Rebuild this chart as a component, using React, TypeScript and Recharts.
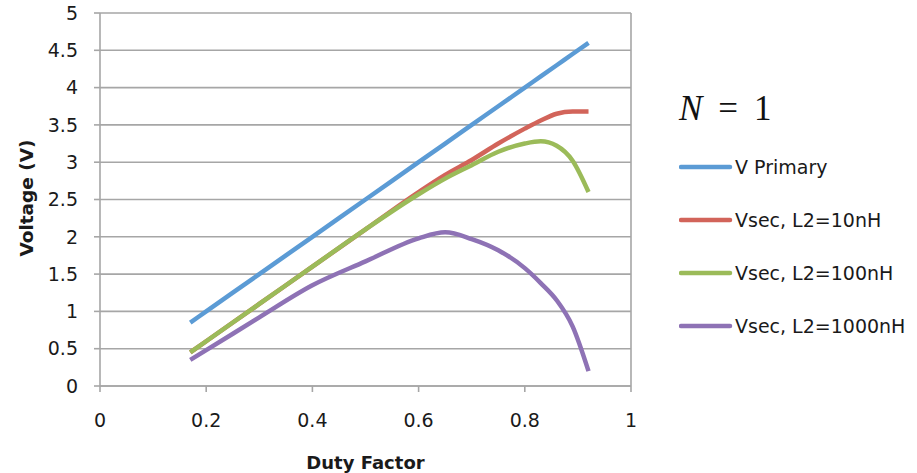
import React from 'react';
import { LineChart, Line, XAxis, YAxis, CartesianGrid, ReferenceLine } from 'recharts';

// duty factor samples (x) and voltages
const dutyFactor = [0.17, 0.2, 0.3, 0.4, 0.5, 0.6, 0.65, 0.7, 0.75, 0.8, 0.83, 0.86, 0.89, 0.92];
const vPrimary = [0.85, 1.0, 1.5, 2.0, 2.5, 3.0, 3.25, 3.5, 3.75, 4.0, 4.15, 4.3, 4.45, 4.6];
const vSec10 = [0.45, 0.6, 1.1, 1.6, 2.1, 2.6, 2.83, 3.03, 3.25, 3.45, 3.56, 3.65, 3.68, 3.68];
const vSec100 = [0.45, 0.6, 1.1, 1.6, 2.1, 2.57, 2.78, 2.96, 3.14, 3.25, 3.28, 3.22, 3.02, 2.6];
const vSec1000 = [0.35, 0.48, 0.92, 1.35, 1.67, 1.98, 2.06, 1.97, 1.82, 1.58, 1.38, 1.15, 0.8, 0.2];

const xTicks = [0, 0.2, 0.4, 0.6, 0.8, 1];
const yTicks = [0, 0.5, 1, 1.5, 2, 2.5, 3, 3.5, 4, 4.5, 5];

const series = [
  { key: 'vp', name: 'V Primary', color: '#5B9BD5' },
  { key: 's10', name: 'Vsec, L2=10nH', color: '#D2645A' },
  { key: 's100', name: 'Vsec, L2=100nH', color: '#9BBB59' },
  { key: 's1000', name: 'Vsec, L2=1000nH', color: '#8E72B5' },
];

const data = dutyFactor.map((d, i) => ({
  d,
  vp: vPrimary[i],
  s10: vSec10[i],
  s100: vSec100[i],
  s1000: vSec1000[i],
}));

const FONT = '"DejaVu Sans", sans-serif';
const GRID = '#A6A6A6';
const tickStyle = { fontFamily: FONT, fontSize: 19, fill: '#1a1a1a' };

const YLabel = () => (
  <text
    x={26}
    y={198}
    transform="rotate(-90 26 198)"
    textAnchor="middle"
    dominantBaseline="central"
    style={{ fontFamily: FONT, fontSize: 18.5, fontWeight: 'bold', fill: '#1a1a1a' }}
  >
    Voltage (V)
  </text>
);

export default function App() {
  return (
    <div style={{ position: 'absolute', left: 0, top: 0, width: 917, height: 473, background: '#fff' }}>
      <LineChart width={917} height={473} data={data} margin={{ top: 13, right: 286, bottom: 0, left: 0 }}>
        <CartesianGrid vertical={false} stroke={GRID} strokeWidth={1.6} />
        <ReferenceLine x={1} stroke={GRID} strokeWidth={1.6} />
        <XAxis
          dataKey="d"
          type="number"
          domain={[0, 1]}
          ticks={xTicks}
          height={87}
          tickSize={6}
          tickMargin={22}
          stroke={GRID}
          strokeWidth={1.6}
          tick={tickStyle}
          label={{
            value: 'Duty Factor',
            position: 'insideBottom',
            offset: 4,
            style: { fontFamily: FONT, fontSize: 18, fontWeight: 'bold', fill: '#1a1a1a' },
          }}
        />
        <YAxis
          type="number"
          domain={[0, 5]}
          ticks={yTicks}
          width={100}
          tickSize={6}
          tickMargin={16}
          stroke={GRID}
          strokeWidth={1.6}
          tick={tickStyle}
          label={{ content: () => <YLabel /> }}
        />
        {series.map(s => (
          <Line
            key={s.key}
            dataKey={s.key}
            name={s.name}
            type="monotone"
            stroke={s.color}
            strokeWidth={4.5}
            dot={false}
            activeDot={false}
            isAnimationActive={false}
          />
        ))}
      </LineChart>

      <div style={{ position: 'absolute', left: 679, top: 89 }}>
        <div style={{ fontFamily: '"Liberation Serif", serif', fontSize: 35, color: '#111', whiteSpace: 'nowrap', lineHeight: '40px' }}>
          <i>N</i>
          <span style={{ marginLeft: 16 }}>=</span>
          <span style={{ marginLeft: 16 }}>1</span>
        </div>
      </div>
      {series.map((s, i) => (
        <div
          key={s.key}
          style={{
            position: 'absolute',
            left: 679,
            top: 167 + i * 53 - 12,
            height: 24,
            display: 'flex',
            alignItems: 'center',
            whiteSpace: 'nowrap',
          }}
        >
          <svg width={54} height={8} style={{ display: 'block' }}>
            <line x1={2} y1={4} x2={51} y2={4} stroke={s.color} strokeWidth={4.5} strokeLinecap="round" />
          </svg>
          <span style={{ fontFamily: FONT, fontSize: 19, color: '#1a1a1a', marginLeft: 2 }}>{s.name}</span>
        </div>
      ))}
    </div>
  );
}
